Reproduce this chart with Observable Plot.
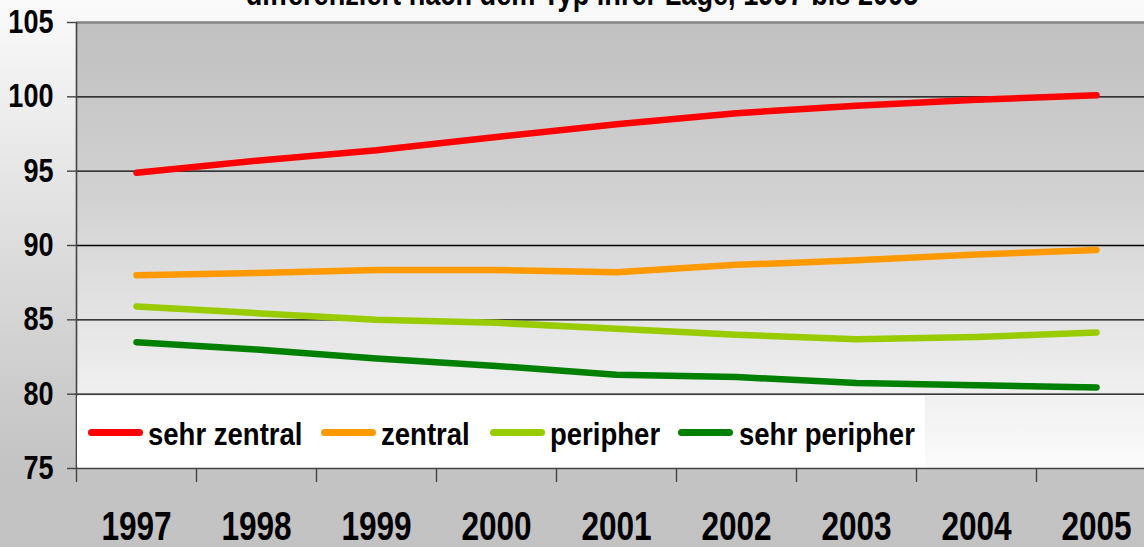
<!DOCTYPE html>
<html>
<head>
<meta charset="utf-8">
<script src="https://cdn.jsdelivr.net/npm/d3@7"></script>
<script src="https://cdn.jsdelivr.net/npm/@observablehq/plot@0.6"></script>
<style>
  html, body { margin: 0; padding: 0; overflow: hidden; width: 1144px; height: 547px; }
  body {
    background: linear-gradient(to bottom, #fafafa 0%, #d2d2d2 62%, #c4c4c4 85%, #c2c2c2 100%);
    font-family: "Liberation Sans", Arial, sans-serif;
    font-weight: bold;
  }
  #wrap { position: relative; width: 1144px; height: 547px; overflow: hidden; }
  #wrap svg { position: absolute; left: 0; top: 0; background: transparent; overflow: hidden; }
  #legend {
    position: absolute; left: 77px; top: 396px; width: 848px; height: 71px;
    background: #ffffff;
  }
  .sw { position: absolute; top: 33px; height: 7px; width: 55px; border-radius: 4px; }
  .lab { position: absolute; top: 18px; font-size: 32px; line-height: 40px; color: #000;
         white-space: nowrap; transform: scaleX(0.86); transform-origin: 0 50%; }
</style>
</head>
<body>
<div id="wrap">
  <div id="legend"></div>
</div>
<script>
// ---- data ----
const years = ["1997", "1998", "1999", "2000", "2001", "2002", "2003", "2004", "2005"];
const sehrZentral  = [94.9, 95.7, 96.4, 97.3, 98.15, 98.9, 99.4, 99.8, 100.1];
const zentral      = [88.0, 88.15, 88.35, 88.35, 88.2, 88.7, 89.0, 89.4, 89.7];
const peripher     = [85.9, 85.45, 85.0, 84.8, 84.4, 84.0, 83.7, 83.85, 84.15];
const sehrPeripher = [83.5, 83.0, 82.4, 81.9, 81.3, 81.15, 80.75, 80.6, 80.45];
const seriesNames  = ["sehr zentral", "zentral", "peripher", "sehr peripher"];
const seriesColors = ["#ff0000", "#ff9900", "#99cc00", "#008000"];
const yTicks = [75, 80, 85, 90, 95, 100, 105];
const titleText = "differenziert nach dem Typ ihrer Lage, 1997 bis 2005";

const seriesValues = [sehrZentral, zentral, peripher, sehrPeripher];
const data = seriesNames.flatMap((s, i) =>
  years.map((y, j) => ({ series: s, year: y, value: seriesValues[i][j] })));

const FONT = '"Liberation Sans", Arial, sans-serif';

const defsMark = () => {
  const defs = d3.create("svg:defs");
  const g = defs.append("linearGradient").attr("id", "plotbg")
    .attr("x1", 0).attr("y1", 0).attr("x2", 0).attr("y2", 1);
  g.append("stop").attr("offset", "0%").attr("stop-color", "#c0c0c0");
  g.append("stop").attr("offset", "40%").attr("stop-color", "#d2d2d2");
  g.append("stop").attr("offset", "100%").attr("stop-color", "#fbfbfb");
  return defs.node();
};

const chart = Plot.plot({
  width: 1156,
  height: 547,
  marginTop: 22,
  marginBottom: 79,
  marginLeft: 76,
  marginRight: 0,
  style: { fontFamily: FONT, fontWeight: "bold", background: "transparent", color: "#000" },
  x: { type: "band", domain: years, padding: 0, label: null },
  y: { domain: [75, 105], label: null },
  color: { domain: seriesNames, range: seriesColors },
  marks: [
    defsMark,
    Plot.frame({ fill: "url(#plotbg)", stroke: null }),
    Plot.ruleY(yTicks.filter(v => v > 75 && v < 105), { stroke: "#000", strokeWidth: 1.3 }),
    Plot.ruleY([105], { stroke: "#858585", strokeWidth: 2.5 }),
    Plot.ruleY([75], { stroke: "#444", strokeWidth: 1.6 }),
    Plot.ruleX([years[0]], { dx: -60, y1: 75, y2: 105, stroke: "#444", strokeWidth: 1.6 }),
    Plot.axisY({ ticks: yTicks, tickSize: 9, tickPadding: 14, fontSize: 33, fontWeight: "bold", stroke: "#444", strokeWidth: 1.4, label: null }),
    Plot.axisX({ tickSize: 14, tickPadding: 0, tickFormat: () => "", dx: -60, stroke: "#444", strokeWidth: 1.4, label: null }),
    Plot.axisX({ tickSize: 0, tickPadding: 42, fontSize: 41, fontWeight: "bold", label: null }),
    Plot.line(data, {
      x: "year", y: "value", z: "series", stroke: "series",
      strokeWidth: 6.5, strokeLinecap: "round", strokeLinejoin: "round"
    })
  ]
});
chart.style.maxWidth = "none";
chart.style.width = "1156px";
chart.style.height = "547px";

const wrap = document.getElementById("wrap");
wrap.insertBefore(chart, wrap.firstChild);

// condense the bold text horizontally (narrow-font look of the original)
function squeeze(sel, sx) {
  sel.each(function () {
    const t = this.getAttribute("transform") || "";
    this.setAttribute("transform", (t + ` scale(${sx},1)`).trim());
  });
}
squeeze(d3.select(chart).selectAll('g[aria-label="y-axis tick label"] text'), 0.82);
squeeze(d3.select(chart).selectAll('g[aria-label="x-axis tick label"] text'), 0.77);

// title (cut off at the top of the picture, as in the reference)
d3.select(chart).append("text")
  .attr("text-anchor", "middle")
  .attr("font-size", 33).attr("font-weight", "bold")
  .attr("fill", "#000")
  .attr("transform", "translate(582,5) scale(0.823,1)")
  .text(titleText);

// legend
const legendPos = [[11, 71], [244, 304], [413, 473], [601, 662]];
const legend = d3.select("#legend");
seriesNames.forEach((s, i) => {
  legend.append("div").attr("class", "sw")
    .style("left", legendPos[i][0] + "px").style("background", seriesColors[i]);
  legend.append("div").attr("class", "lab")
    .style("left", legendPos[i][1] + "px").text(s);
});
</script>
</body>
</html>
